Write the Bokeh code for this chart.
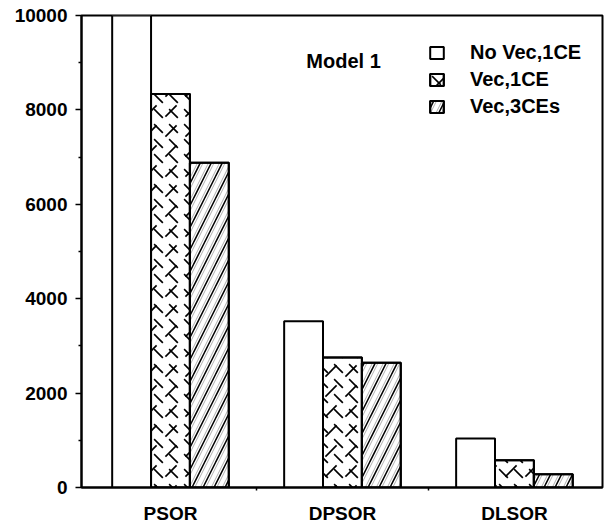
from bokeh.plotting import figure
from bokeh.models import (Range1d, FixedTicker, Legend, LegendItem, Label, ColumnDataSource)
from bokeh.embed import file_html
from bokeh.resources import INLINE

categories = ["PSOR", "DPSOR", "DLSOR"]
series = ["No Vec,1CE", "Vec,1CE", "Vec,3CEs"]
no_vec_1ce = [10000, 3520, 1040]
vec_1ce = [8335, 2755, 575]
vec_3ces = [6880, 2645, 280]
y_ticks = [0, 2000, 4000, 6000, 8000, 10000]
y_minor = [1000, 3000, 5000, 7000, 9000]

FONT = "Liberation Sans"
centers = [i + 0.5 for i in range(len(categories))]
offset = 0.226
bw = 0.226

p = figure(width=605, height=526, output_backend="svg", toolbar_location=None,
           x_range=Range1d(-0.0174, 3.012), y_range=Range1d(0, 10000),
           min_border_left=81, min_border_right=3, min_border_top=15, min_border_bottom=36)
p.background_fill_color = "white"
p.border_fill_color = "white"
p.outline_line_color = "black"
p.outline_line_width = 2
p.xgrid.visible = False
p.ygrid.visible = False

def src(vals, off):
    return ColumnDataSource(dict(x=[c + off for c in centers], top=vals))

r1 = p.vbar(x="x", top="top", width=bw, source=src(no_vec_1ce, -offset),
            fill_color="white", line_color="black", line_width=2)
r2a = p.vbar(x="x", top="top", width=bw, source=src(vec_1ce, 0),
             fill_color="white", line_color="black", line_width=2,
             hatch_pattern="right_diagonal_dash", hatch_scale=20, hatch_weight=1.7, hatch_color="black")
r2b = p.vbar(x="x", top="top", width=bw, source=src(vec_1ce, 0),
             fill_alpha=0, line_color="black", line_width=2,
             hatch_pattern="left_diagonal_dash", hatch_scale=15, hatch_weight=1.7, hatch_color="black")
r3a = p.vbar(x="x", top="top", width=bw, source=src(vec_3ces, offset),
             fill_color="white", line_color="black", line_width=2,
             hatch_pattern="right_diagonal_line", hatch_scale=11, hatch_weight=0.8, hatch_color="#9a9a9a")
r3b = p.vbar(x="x", top="top", width=bw, source=src(vec_3ces, offset),
             fill_alpha=0, line_color="black", line_width=2,
             hatch_pattern="right_diagonal_line", hatch_scale=22, hatch_weight=1.5, hatch_color="black")

# axes
xa = p.xaxis[0]
xa.ticker = FixedTicker(ticks=centers, minor_ticks=[1, 2])
xa.major_label_overrides = {c: n for c, n in zip(centers, categories)}
xa.major_tick_out = 0
xa.major_tick_in = 0
xa.minor_tick_out = 3
xa.minor_tick_in = 0
xa.axis_line_width = 2
xa.minor_tick_line_width = 1.5
xa.major_label_standoff = 12
xa.major_label_text_font = FONT
xa.major_label_text_font_style = "bold"
xa.major_label_text_font_size = "19px"
xa.major_label_text_color = "black"

ya = p.yaxis[0]
ya.ticker = FixedTicker(ticks=y_ticks, minor_ticks=y_minor)
ya.major_tick_out = 6
ya.major_tick_in = 0
ya.minor_tick_out = 3
ya.minor_tick_in = 0
ya.axis_line_width = 2
ya.major_tick_line_width = 1.5
ya.minor_tick_line_width = 1.5
ya.major_label_standoff = 8
ya.major_label_text_font = FONT
ya.major_label_text_font_style = "bold"
ya.major_label_text_font_size = "19px"
ya.major_label_text_color = "black"

p.add_layout(Label(x=1.29, y=9040, text="Model 1", text_font=FONT, text_font_style="bold",
                   text_font_size="20px", text_color="black", text_baseline="alphabetic"))

legend = Legend(items=[LegendItem(label=series[0], renderers=[r1]),
                       LegendItem(label=series[1], renderers=[r2a, r2b]),
                       LegendItem(label=series[2], renderers=[r3a, r3b])],
                location=(347, 369), orientation="vertical",
                glyph_width=17, glyph_height=15, label_height=20, spacing=4,
                label_standoff=25, padding=0, margin=0,
                border_line_color=None, background_fill_alpha=0,
                label_text_font=FONT, label_text_font_style="bold",
                label_text_font_size="20px", label_text_color="black")
p.add_layout(legend)

open("out.html", "w").write(file_html(p, INLINE))
